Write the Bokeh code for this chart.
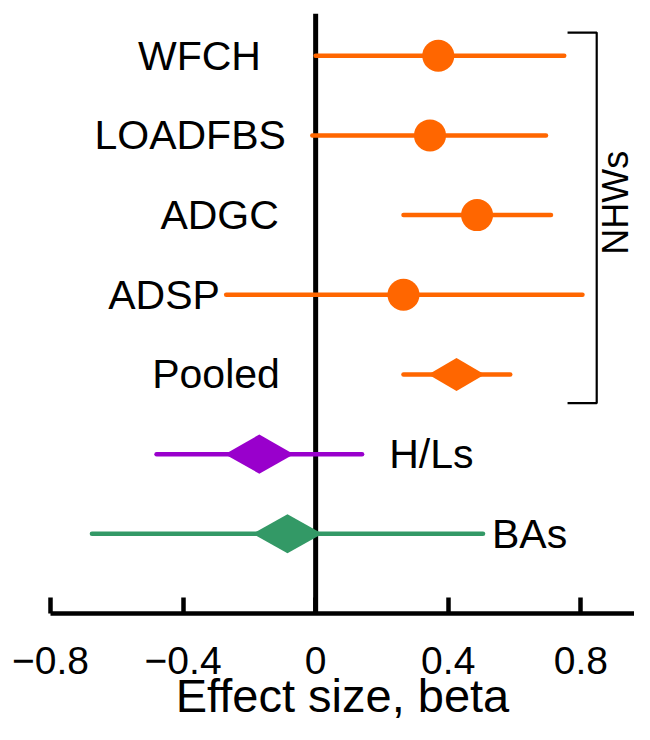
import math
from bokeh.plotting import figure
from bokeh.models import Range1d, Span, FixedTicker, Label
from bokeh.core.properties import value
from bokeh.embed import file_html
from bokeh.resources import INLINE

# ---- data ----
labels = ["WFCH", "LOADFBS", "ADGC", "ADSP", "Pooled", "H/Ls", "BAs"]
estimate = [0.37, 0.345, 0.487, 0.265, 0.425, -0.17, -0.085]
ci_low = [0.0, -0.01, 0.265, -0.27, 0.265, -0.48, -0.675]
ci_high = [0.75, 0.695, 0.71, 0.805, 0.587, 0.14, 0.505]
marker_kind = ["circle", "circle", "circle", "circle", "diamond", "diamond", "diamond"]
group = ["NHW", "NHW", "NHW", "NHW", "NHW", "HL", "BA"]
diamond_low = [0.34, -0.274, -0.19]
diamond_high = [0.51, -0.066, 0.02]
x_ticks = [-0.8, -0.4, 0, 0.4, 0.8]
x_tick_labels = ["\u22120.8", "\u22120.4", "0", "0.4", "0.8"]
bracket_label = "NHWs"

# ---- styles ----
colors = {"NHW": "#FF6600", "HL": "#9900CC", "BA": "#339966"}
FONT = "Liberation Sans"
n = len(labels)
ypos = [n - i for i in range(n)]
# label layout (positions in data units)
label_x = [-0.165, -0.09, -0.111, -0.289, -0.108, 0.222, 0.532]
label_align = ["right"] * 5 + ["left", "left"]

p = figure(width=634, height=724, output_backend="svg", toolbar_location=None,
           x_range=Range1d(-0.8, 0.962), y_range=Range1d(0, 7.53),
           min_border_left=50, min_border_right=0, min_border_top=13,
           min_border_bottom=111)
p.outline_line_color = None
p.grid.visible = False
p.yaxis.visible = False
p.background_fill_color = "white"
p.border_fill_color = "white"

# zero line (under the coloured marks)
p.add_layout(Span(location=0, dimension="height", line_color="black",
                  line_width=5, level="underlay"))

# error bars
cols = [colors[g] for g in group]
p.segment(x0=ci_low, x1=ci_high, y0=ypos, y1=ypos, line_color=cols,
          line_width=4.5, line_cap="round")

# circles
ci_idx = [i for i, k in enumerate(marker_kind) if k == "circle"]
p.scatter(x=[estimate[i] for i in ci_idx], y=[ypos[i] for i in ci_idx], size=32,
          marker="circle", fill_color=[cols[i] for i in ci_idx], line_color=None)

# diamonds
di_idx = [i for i, k in enumerate(marker_kind) if k == "diamond"]
half_h = [0.207, 0.245, 0.245]
xs, ys, dc = [], [], []
for j, i in enumerate(di_idx):
    xs.append([diamond_low[j], estimate[i], diamond_high[j], estimate[i]])
    ys.append([ypos[i], ypos[i] + half_h[j], ypos[i], ypos[i] - half_h[j]])
    dc.append(cols[i])
p.patches(xs=xs, ys=ys, fill_color=dc, line_color=None)

# row labels
for i in range(n):
    p.text(x=[label_x[i]], y=[ypos[i]], text=[labels[i]], text_align=label_align[i],
           text_baseline="middle", text_font=value(FONT), text_font_size="41px",
           text_color="black")

# bracket for NHWs
nhw = [i for i, g in enumerate(group) if g == "NHW"]
top = ypos[nhw[0]] + 0.29
bot = ypos[nhw[-1]] - 0.36
bx_in, bx_out = 0.76, 0.848
p.line(x=[bx_in, bx_out, bx_out, bx_in], y=[top, top, bot, bot],
       line_color="black", line_width=2.2)
p.add_layout(Label(x=0.905, y=(top + bot) / 2 + 0.19, text=bracket_label,
                   angle=math.pi / 2, text_align="center", text_baseline="middle",
                   text_font=FONT, text_font_size="36px", text_color="black"))

# x axis
ax = p.xaxis[0]
ax.ticker = FixedTicker(ticks=x_ticks)
ax.major_label_overrides = {t: l for t, l in zip(x_ticks, x_tick_labels)}
ax.axis_line_width = 4.5
ax.axis_line_color = "black"
ax.major_tick_line_width = 4.5
ax.major_tick_in = 16
ax.major_tick_out = 0
ax.minor_tick_line_color = None
ax.major_label_text_font = FONT
ax.major_label_text_font_size = "39px"
ax.major_label_text_color = "black"
ax.major_label_standoff = 33
ax.axis_label = "Effect size, beta"
ax.axis_label_text_font = FONT
ax.axis_label_text_font_size = "47px"
ax.axis_label_text_font_style = "normal"
ax.axis_label_text_color = "black"
ax.axis_label_standoff = -8

open("out.html", "w").write(file_html(p, INLINE))
